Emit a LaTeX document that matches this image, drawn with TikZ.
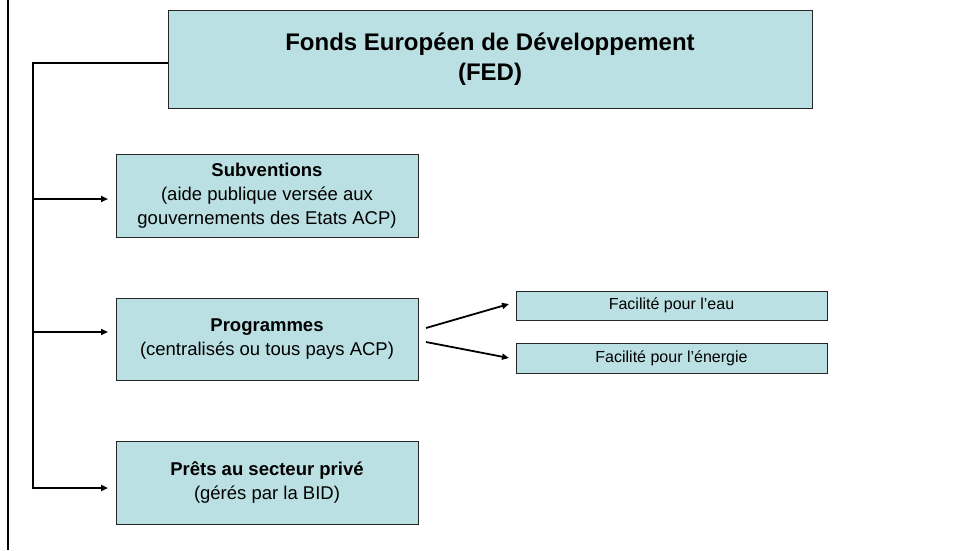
\documentclass[tikz,border=0pt]{standalone}
\usepackage{fontspec}
\setmainfont{Liberation Sans}
\usetikzlibrary{arrows.meta,shadows}
\definecolor{boxfill}{HTML}{BBE0E3}
\begin{document}
\begin{tikzpicture}[x=1pt,y=-1pt,
  box/.style={draw=black!85, fill=boxfill, line width=1pt, inner sep=0pt, outer sep=0pt, align=center,
    drop shadow={shadow xshift=1.3pt, shadow yshift=-1.3pt, fill=black!22, opacity=1}},
  conn/.style={line width=1.8pt, black, line join=miter},
  arr/.style={conn, -{Triangle[length=7pt,width=6pt]}},
  big/.style={font=\fontsize{18.5}{24}\selectfont},
  small/.style={font=\fontsize{16}{19}\selectfont}]
\useasboundingbox (0,0) rectangle (953,550);
\fill[white] (0,0) rectangle (953,550);
\coordinate (ftop) at (7.5,0);
\coordinate (fbot) at (7.5,550);
\draw[line width=2pt] (ftop) -- (fbot);

\node[box, minimum width=644pt, minimum height=98pt, font=\fontsize{24}{30}\selectfont\bfseries] (fed) at (490,59)
  {Fonds Européen de Développement\\(FED)};
\node[box, big, minimum width=302pt, minimum height=83pt] (subv) at (267,195.5)
  {\textbf{Subventions}\\(aide publique versée aux\\gouvernements des Etats ACP)};
\node[box, big, minimum width=302pt, minimum height=82pt] (prog) at (267,339)
  {\textbf{Programmes}\\(centralisés ou tous pays ACP)};
\node[box, big, minimum width=302pt, minimum height=83pt] (pret) at (267,482.5)
  {\textbf{Prêts au secteur privé}\\(gérés par la BID)};
\node[box, small, minimum width=311pt, minimum height=29pt] (eau) at (671.5,305.5)
  {Facilité pour l’eau};
\node[box, small, minimum width=311pt, minimum height=30pt] (ener) at (671.5,358)
  {Facilité pour l’énergie};

\coordinate (tt) at (33,63);
\coordinate (sva) at ([shift={(-8,3.5)}]subv.west);
\coordinate (pra) at ([shift={(-8,-7)}]prog.west);
\coordinate (pta) at ([shift={(-8,5.5)}]pret.west);
\draw[arr] ([shift={(0,4)}]fed.west) -- (tt) -- (tt |- pta) -- (pta);
\draw[arr] (tt |- sva) -- (sva);
\draw[arr] (tt |- pra) -- (pra);

\draw[arr] ([shift={(8,-11)}]prog.east) -- ([shift={(-7,-1.5)}]eau.west);
\draw[arr] ([shift={(8,3)}]prog.east) -- ([shift={(-7,0)}]ener.west);
\end{tikzpicture}
\end{document}
